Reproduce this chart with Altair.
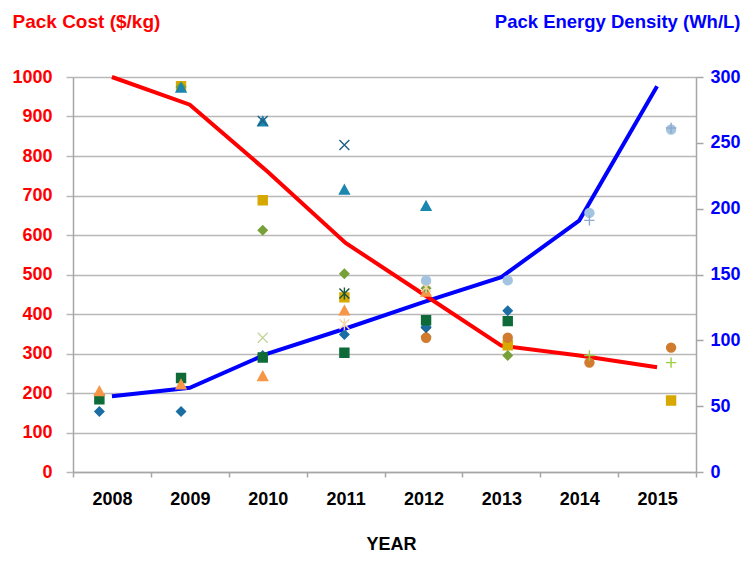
import altair as alt
import pandas as pd

# ---------------- data ----------------
years = [2008, 2009, 2010, 2011, 2012, 2013, 2014, 2015]
pack_cost = [1000, 930, 760, 580, 450, 320, 295, 265]          # $/kg (left axis)
pack_density = [57.5, 64, 90, 109, 129, 148, 191, 293]           # Wh/L (right axis)

# scatter series (values read in left-axis units)
series_names = ["S01", "S02", "S03", "S04", "S05", "S06", "S07",
                "S08", "S09", "S10", "S11", "S12", "S13", "S14"]
series_years = [
    [2008, 2009, 2010, 2011, 2012, 2013],   # dark blue diamond
    [2008, 2009, 2010, 2011, 2012, 2013],   # dark green square
    [2008, 2009, 2010, 2011, 2012],         # orange triangle
    [2010],                                 # light green x
    [2009, 2010, 2011, 2013, 2015],         # gold square
    [2009, 2010, 2011, 2012, 2013],         # olive diamond
    [2009, 2010, 2011, 2012],               # teal triangle
    [2010, 2011, 2012],                     # dark teal x
    [2011],                                 # dark green asterisk
    [2011, 2012],                           # light orange asterisk
    [2012, 2013, 2014, 2015],               # light blue circle
    [2012, 2013, 2014, 2015],               # orange circle
    [2014, 2015],                           # light green plus
    [2014, 2015],                           # grey-blue plus
]
series_values = [
    [153, 153, 295, 348, 367, 408],
    [184, 238, 290, 302, 384, 382],
    [204, 221, 242, 408, 456],
    [340],
    [977, 688, 442, 321, 181],
    [975, 612, 502, 465, 295],
    [972, 887, 714, 673],
    [889, 828, 354],
    [452],
    [374, 468],
    [485, 485, 656, 867],
    [340, 340, 277, 315],
    [295, 277],
    [637, 871],
]
series_colors = ["#1B6EA3", "#0E6B38", "#F79646", "#C3D69B", "#D6A800", "#77A138",
                 "#1B86AE", "#1F5F85", "#17543A", "#F9D4A8", "#A3C4E0", "#D07B2E",
                 "#9BCF3F", "#8FA9C9"]

DIAMOND = "M0,-1L1,0L0,1L-1,0Z"
SQUARE = "M-1,-1H1V1H-1Z"
TRIANGLE = "M0,-1.1L1.1,0.9L-1.1,0.9Z"
XMARK = "M-1.1,-1.1L1.1,1.1M-1.1,1.1L1.1,-1.1"
ASTER = "M-1.1,-1.1L1.1,1.1M-1.1,1.1L1.1,-1.1M0,-1.35V1.35"
PLUS = "M-1.15,0H1.15M0,-1.15V1.15"
series_shapes = [DIAMOND, SQUARE, TRIANGLE, XMARK, SQUARE, DIAMOND, TRIANGLE,
                 XMARK, ASTER, ASTER, "circle", "circle", PLUS, PLUS]
series_filled = [True, True, True, False, True, True, True,
                 False, False, False, True, True, False, False]

# ---------------- tables ----------------
lines_df = pd.DataFrame({"year": years, "cost": pack_cost, "density": pack_density})
rows = []
for name, ys, vs in zip(series_names, series_years, series_values):
    for y, v in zip(ys, vs):
        rows.append({"series": name, "year": y, "value": v})
pts_df = pd.DataFrame(rows)
fills = [c if f else "transparent" for c, f in zip(series_colors, series_filled)]

FONT = "Liberation Sans"
GRAY = "#a6a6a6"
GRID = "#b8b8b8"

density_line = alt.Chart(lines_df).mark_line(color="#0000FF", strokeWidth=4).encode(
    x=alt.X("year:Q", scale=alt.Scale(domain=[2007.5, 2015.5], nice=False, zero=False), axis=None),
    y=alt.Y("density:Q", scale=alt.Scale(domain=[0, 300], nice=False),
            axis=alt.Axis(orient="right", values=list(range(0, 301, 50)), grid=False,
                          format="d",
                          labelColor="#0000FF", labelFontSize=18, labelFontWeight="bold",
                          labelPadding=7, tickSize=7, tickColor=GRAY, tickWidth=1.5,
                          domainColor=GRAY, domainWidth=1.5,
                          title="Pack Energy Density (Wh/L)", titleAngle=0, titleAlign="right",
                          titleBaseline="alphabetic", titleX=44, titleY=-50,
                          titleColor="#0000FF", titleFontSize=18.5, titleFontWeight="bold")),
)

cost_line = alt.Chart(lines_df).mark_line(color="#FF0000", strokeWidth=4).encode(
    x=alt.X("year:Q", scale=alt.Scale(domain=[2007.5, 2015.5], nice=False, zero=False),
            axis=alt.Axis(values=[2007.5 + i for i in range(9)],
                          labelExpr="datum.value > 2015 ? '' : format(datum.value + 0.5, 'd')",
                          labelOffset=39, labelFlush=False, labelOverlap=False,
                          labelFontSize=18, labelFontWeight="bold", labelColor="black",
                          labelPadding=13, tickSize=5, tickColor=GRAY, tickWidth=1.5,
                          domainColor=GRAY, domainWidth=1.5, grid=False,
                          title="YEAR", titleFontSize=18, titleFontWeight="bold",
                          titleColor="black", titleX=318, titleY=77, titleAlign="center",
                          titleBaseline="alphabetic")),
    y=alt.Y("cost:Q", scale=alt.Scale(domain=[0, 1000], nice=False),
            axis=alt.Axis(values=list(range(0, 1001, 100)), format="d", grid=True,
                          gridColor=GRID, gridWidth=1.5, labelColor="#FF0000", labelFontSize=18,
                          labelFontWeight="bold", labelPadding=14, tickSize=7,
                          tickColor=GRID, tickWidth=1.5, domainColor=GRAY, domainWidth=1.5,
                          title="Pack Cost ($/kg)", titleAngle=0, titleAlign="left",
                          titleBaseline="alphabetic", titleX=-61, titleY=-50,
                          titleColor="#FF0000", titleFontSize=19, titleFontWeight="bold")),
)

points = alt.Chart(pts_df).mark_point(filled=False, opacity=1, size=81, strokeWidth=1.4).encode(
    x=alt.X("year:Q", scale=alt.Scale(domain=[2007.677, 2015.305], nice=False, zero=False), axis=None),
    y=alt.Y("value:Q", scale=alt.Scale(domain=[0, 1000], nice=False), axis=None),
    shape=alt.Shape("series:N", scale=alt.Scale(domain=series_names, range=series_shapes), legend=None),
    fill=alt.Fill("series:N", scale=alt.Scale(domain=series_names, range=fills), legend=None),
    stroke=alt.Stroke("series:N", scale=alt.Scale(domain=series_names, range=series_colors), legend=None),
)

chart = alt.layer(density_line, cost_line, points).resolve_scale(
    x="independent", y="independent"
).properties(
    width=623, height=395,
    autosize=alt.AutoSizeParams(type="none"),
    padding={"left": 65, "top": 69, "right": 45, "bottom": 83},
    background="white",
).configure_view(stroke=None).configure_axis(labelFont=FONT, titleFont=FONT)

chart.save("out.html", embed_options={"renderer": "svg", "actions": False})
